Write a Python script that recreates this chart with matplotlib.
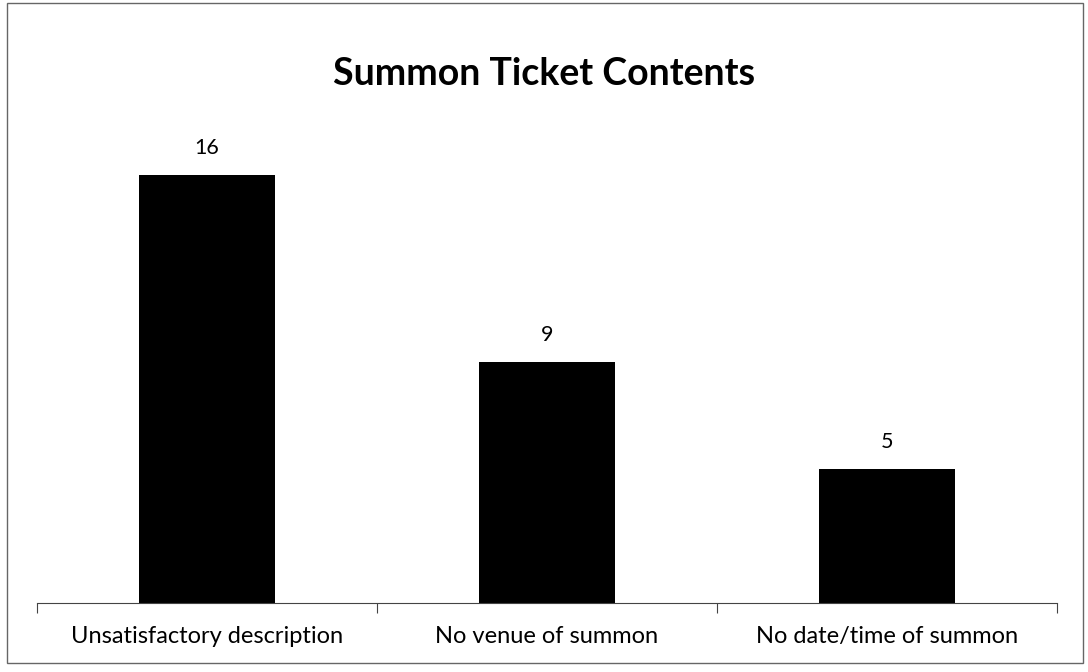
import matplotlib.pyplot as plt
from matplotlib.patches import Rectangle

categories = ['Unsatisfactory description', 'No venue of summon', 'No date/time of summon']
counts = [16, 9, 5]

plt.rcParams['font.family'] = ['Lato', 'DejaVu Sans']

fig = plt.figure(figsize=(10.88, 6.72), dpi=100)
ax = fig.add_axes([0.034, 0.1027, 0.9375, 0.7158])

x = range(len(categories))
bars = ax.bar(x, counts, width=0.4, color='black')

for b, v in zip(bars, counts):
    ax.text(b.get_x() + b.get_width() / 2, v + 0.65, str(v),
            ha='center', va='bottom', fontsize=15.5)

ax.set_xlim(-0.5, len(categories) - 0.5)
ax.set_ylim(0, 18)

# category labels centred, tick marks on the boundaries between them
ax.set_xticks([i - 0.5 for i in range(len(categories) + 1)])
ax.set_xticklabels([])
ax.tick_params(axis='x', direction='out', length=7, color='#444444')
for i, c in enumerate(categories):
    ax.text(i, -0.85, c, ha='center', va='top', fontsize=17)

ax.set_yticks([])
for s in ['top', 'right', 'left']:
    ax.spines[s].set_visible(False)
ax.spines['bottom'].set_color('#444444')

fig.text(0.5, 0.89, 'Summon Ticket Contents', ha='center', va='center',
         fontsize=27, fontweight='bold')

fig.patches.append(Rectangle((0.006, 0.013), 0.989, 0.982, transform=fig.transFigure,
                             fill=False, edgecolor='#666666', linewidth=1))

fig.savefig('out.png', dpi=100)
